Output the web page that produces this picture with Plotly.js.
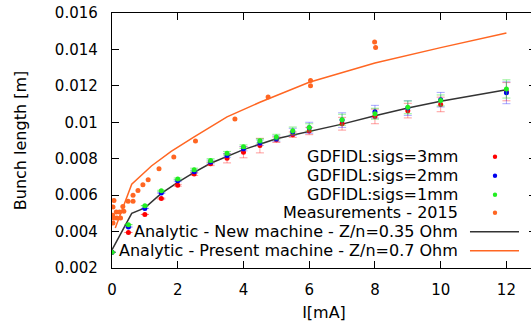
<!DOCTYPE html>
<html>
<head>
<meta charset="utf-8">
<script src="https://cdn.plot.ly/plotly-3.0.1.min.js"></script>
<style>
html,body{margin:0;padding:0;overflow:hidden;background:#fff;width:531px;height:326px;}
#chart{width:540px;height:326px;}
</style>
</head>
<body>
<div id="chart"></div>
<script>
// ---- data ----
var simCurrent = [0, 0.5, 1, 1.5, 2, 2.5, 3, 3.5, 4, 4.5, 5, 5.5, 6, 7, 8, 9, 10, 12];
var sigs3mm = [0.00286, 0.00395, 0.00494, 0.00581, 0.00654, 0.00716, 0.00772, 0.00802, 0.00835, 0.00872, 0.00904, 0.00932, 0.00952, 0.00992, 0.01032, 0.01064, 0.01098, 0.01168];
var sigs3mmErr = [0, 0, 0, 0.00003, 0.00005, 0.00008, 0.0001, 0.00025, 0.0003, 0.0004, 0.00015, 0.00015, 0.0002, 0.00035, 0.0004, 0.0004, 0.0004, 0.0005];
var sigs2mm = [0.00286, 0.00425, 0.00527, 0.00612, 0.00679, 0.00729, 0.00782, 0.00818, 0.00855, 0.00888, 0.0091, 0.00947, 0.0097, 0.01012, 0.01058, 0.01078, 0.01124, 0.01162];
var sigs2mmErr = [0, 0, 0, 0.00003, 0.00005, 0.00008, 0.0001, 0.0001, 0.00012, 0.00015, 0.00015, 0.0002, 0.0003, 0.0004, 0.00035, 0.0004, 0.0004, 0.0006];
var sigs1mm = [0.00286, 0.00438, 0.00542, 0.00624, 0.00689, 0.0074, 0.0079, 0.0083, 0.00866, 0.00898, 0.00919, 0.00954, 0.00972, 0.01014, 0.01047, 0.01082, 0.0112, 0.01183];
var sigs1mmErr = [0, 0, 0, 0.00003, 0.00005, 0.00008, 0.0001, 0.0001, 0.0001, 0.00012, 0.00015, 0.0002, 0.0002, 0.0003, 0.0003, 0.00035, 0.0003, 0.0005];

var measCurrent = [0.02, 0.03, 0.03, 0.06, 0.06, 0.13, 0.15, 0.23, 0.26, 0.33, 0.36, 0.49, 0.64, 0.64, 0.79, 0.94, 1.1, 1.43, 1.88, 2.54, 3.74, 4.75, 6.04, 6.04, 7.99, 8.02];
var measLength = [0.0049, 0.00447, 0.00535, 0.00571, 0.00474, 0.00507, 0.00474, 0.00507, 0.00474, 0.00538, 0.00511, 0.00566, 0.00566, 0.00599, 0.00626, 0.00657, 0.00685, 0.00745, 0.00809, 0.00897, 0.01018, 0.01139, 0.0123, 0.01201, 0.01441, 0.01411];

var newCurrent = [0, 0.6, 1, 1.5, 2, 2.5, 3, 4, 5, 6, 7, 8, 9, 10, 12];
var newLength = [0.0030, 0.0050, 0.0053, 0.0061, 0.0067, 0.00725, 0.00775, 0.0085, 0.0091, 0.0095, 0.0099, 0.01036, 0.01078, 0.01115, 0.01179];
var presentCurrent = [0.1, 0.6, 1.2, 1.8, 2.5, 3.5, 4.5, 6, 8, 10, 12];
var presentLength = [0.0042, 0.0066, 0.0076, 0.0084, 0.0092, 0.0103, 0.0111, 0.0122, 0.01325, 0.0141, 0.0149];

var xTicks = [0, 2, 4, 6, 8, 10, 12];
var yTickVals = [0.002, 0.004, 0.006, 0.008, 0.01, 0.012, 0.014, 0.016];
var yTickText = ['0.002', '0.004', '0.006', '0.008', '0.01', '0.012', '0.014', '0.016'];

var legendNames = ['GDFIDL:sigs=3mm', 'GDFIDL:sigs=2mm', 'GDFIDL:sigs=1mm', 'Measurements - 2015',
                   'Analytic - New machine - Z/n=0.35 Ohm', 'Analytic - Present machine - Z/n=0.7 Ohm'];

// ---- styles ----
var cRed = '#ff0000', cBlue = '#0000ee', cGreen = '#22ee22', cOrange = '#ff6622', cBlack = '#333333';
var FONT = 'DejaVu Sans, sans-serif';

function simTrace(y, err, col, errCol, name) {
  return {
    x: simCurrent, y: y, name: name, type: 'scatter', mode: 'markers',
    marker: {color: col, size: 5},
    error_y: {type: 'data', array: err, visible: true, color: errCol, thickness: 1, width: 4},
    showlegend: false
  };
}

var traces = [
  {x: newCurrent, y: newLength, mode: 'lines', line: {color: cBlack, width: 1.5}, name: legendNames[4], showlegend: false},
  {x: presentCurrent, y: presentLength, mode: 'lines', line: {color: cOrange, width: 1.5}, name: legendNames[5], showlegend: false},
  {x: measCurrent, y: measLength, mode: 'markers', marker: {color: cOrange, size: 5}, name: legendNames[3], showlegend: false},
  simTrace(sigs3mm, sigs3mmErr, cRed, 'rgba(255,60,60,0.5)', legendNames[0]),
  simTrace(sigs2mm, sigs2mmErr, cBlue, 'rgba(60,60,255,0.45)', legendNames[1]),
  simTrace(sigs1mm, sigs1mmErr, cGreen, 'rgba(40,230,40,0.5)', legendNames[2])
];

// manual legend (text right-aligned, key on the right, as in the reference)
var rowsY = [0.4365, 0.362, 0.2875, 0.2169, 0.1424, 0.0678];
var keyColors = [cRed, cBlue, cGreen, cOrange, cBlack, cOrange];
var annotations = [], shapes = [];
for (var i = 0; i < legendNames.length; i++) {
  annotations.push({xref: 'paper', yref: 'paper', x: 0.8208, y: rowsY[i], xanchor: 'right', yanchor: 'middle',
    text: legendNames[i], showarrow: false, font: {family: FONT, size: 16, color: '#000'}});
  if (i < 4) {
    shapes.push({type: 'circle', xref: 'paper', yref: 'paper', xsizemode: 'pixel', ysizemode: 'pixel',
      xanchor: 0.9033, yanchor: rowsY[i], x0: -2.2, x1: 2.2, y0: -2.2, y1: 2.2,
      fillcolor: keyColors[i], line: {width: 0}});
  } else {
    shapes.push({type: 'line', xref: 'paper', yref: 'paper', x0: 0.8443, x1: 0.9599, y0: rowsY[i], y1: rowsY[i],
      line: {color: keyColors[i], width: 1.5}});
  }
}

var layout = {
  width: 540, height: 326,
  margin: {l: 112, r: 4, t: 13, b: 58},
  paper_bgcolor: '#fff', plot_bgcolor: '#fff',
  font: {family: FONT, size: 15, color: '#000'},
  showlegend: false,
  xaxis: {
    range: [0, 12.9], tickvals: xTicks, ticks: 'inside', ticklen: 7, tickcolor: '#000',
    showline: true, linecolor: '#000', linewidth: 1.2, mirror: 'ticks', showgrid: false, zeroline: false,
    tickfont: {family: FONT, size: 15}, ticklabelstandoff: 8,
    title: {text: 'I[mA]', font: {family: FONT, size: 16}, standoff: 8}
  },
  yaxis: {
    range: [0.002, 0.016], tickvals: yTickVals, ticktext: yTickText, ticks: 'inside', ticklen: 7, tickcolor: '#000',
    showline: true, linecolor: '#000', linewidth: 1.2, mirror: 'ticks', showgrid: false, zeroline: false,
    tickfont: {family: FONT, size: 15}, ticklabelstandoff: 10,
    title: {text: 'Bunch length [m]', font: {family: FONT, size: 16}, standoff: 24}
  },
  annotations: annotations,
  shapes: shapes
};

Plotly.newPlot('chart', traces, layout, {displayModeBar: false, staticPlot: true});
</script>
</body>
</html>
